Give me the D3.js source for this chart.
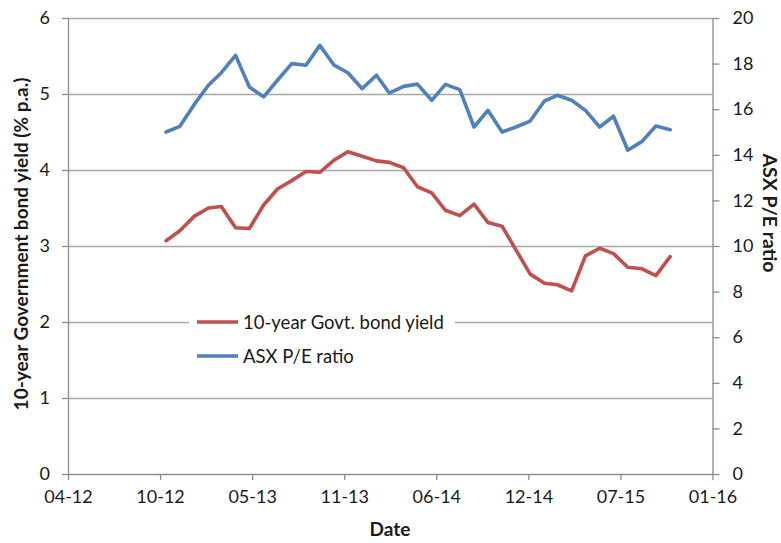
<!DOCTYPE html>
<html>
<head>
<meta charset="utf-8">
<script src="https://cdn.jsdelivr.net/npm/d3@7"></script>
<style>
  html, body { margin: 0; padding: 0; background: #fff; }
  svg { display: block; }
  text { font-family: Lato, "Open Sans", sans-serif; fill: #1a1a1a; }
</style>
</head>
<body>
<svg id="chart" width="781" height="543"></svg>
<script>
// ---- data ----
const dates = [
  "2012-10-31","2012-11-30","2012-12-31",
  "2013-01-31","2013-02-28","2013-03-31","2013-04-30","2013-05-31","2013-06-30",
  "2013-07-31","2013-08-31","2013-09-30","2013-10-31","2013-11-30","2013-12-31",
  "2014-01-31","2014-02-28","2014-03-31","2014-04-30","2014-05-31","2014-06-30",
  "2014-07-31","2014-08-31","2014-09-30","2014-10-31","2014-11-30","2014-12-31",
  "2015-01-31","2015-02-28","2015-03-31","2015-04-30","2015-05-31","2015-06-30",
  "2015-07-31","2015-08-31","2015-09-30","2015-10-31"
];
const bondYield = [
  3.07, 3.20, 3.39,
  3.50, 3.52, 3.24, 3.23, 3.54, 3.75,
  3.86, 3.98, 3.97, 4.13, 4.24, 4.18,
  4.12, 4.10, 4.03, 3.78, 3.70, 3.47,
  3.40, 3.55, 3.31, 3.26, 2.95, 2.63,
  2.51, 2.49, 2.41, 2.87, 2.97, 2.90,
  2.72, 2.70, 2.61, 2.86
];
const peRatio = [
  15.00, 15.25, 16.20,
  17.05, 17.60, 18.36, 16.97, 16.54, 17.27,
  18.00, 17.93, 18.80, 17.93, 17.60, 16.90,
  17.49, 16.71, 17.00, 17.10, 16.39, 17.09,
  16.86, 15.22, 15.95, 15.00, 15.22, 15.48,
  16.36, 16.61, 16.39, 15.95, 15.22, 15.69,
  14.20, 14.59, 15.26, 15.10
];
const xDomain = ["2012-04-01", "2016-01-31"];
const xTickDates = ["2012-04-01","2012-10-18","2013-05-06","2013-11-22","2014-06-10","2014-12-27","2015-07-15","2016-01-31"];
const leftTicks = [0, 1, 2, 3, 4, 5, 6];
const rightTicks = [0, 2, 4, 6, 8, 10, 12, 14, 16, 18, 20];
const seriesNames = ["10-year Govt. bond yield", "ASX P/E ratio"];
const leftTitle = "10-year Government bond yield (% p.a.)";
const rightTitle = "ASX P/E ratio";
const xTitle = "Date";

// ---- layout ----
const svg = d3.select("#chart");
const L = 68, R = 712.5, T = 18, B = 474;
const red = "#C0504D", blue = "#4F81BD";
const gridCol = "#a8a8a8", axisCol = "#8c8c8c";

const parse = d3.utcParse("%Y-%m-%d");
const x = d3.scaleUtc().domain(xDomain.map(parse)).range([L, R]);
const yL = d3.scaleLinear().domain([0, 6]).range([B, T]);
const yR = d3.scaleLinear().domain([0, 20]).range([B, T]);

// gridlines
svg.append("g").selectAll("line")
  .data(leftTicks.filter(d => d > 0))
  .join("line")
  .attr("x1", L).attr("x2", R)
  .attr("y1", d => Math.round(yL(d)) + 0.5).attr("y2", d => Math.round(yL(d)) + 0.5)
  .attr("stroke", gridCol).attr("stroke-width", 1.3);

// axes
const fmt = d3.utcFormat("%m-%y");
const gx = svg.append("g").attr("transform", `translate(0,${B})`)
  .call(d3.axisBottom(x).tickValues(xTickDates.map(parse)).tickFormat(fmt).tickSize(6).tickPadding(10).tickSizeOuter(0));
const gl = svg.append("g").attr("transform", `translate(${L},0)`)
  .call(d3.axisLeft(yL).tickValues(leftTicks).tickFormat(d3.format("d")).tickSize(6).tickPadding(12).tickSizeOuter(0));
const gr = svg.append("g").attr("transform", `translate(${R},0)`)
  .call(d3.axisRight(yR).tickValues(rightTicks).tickFormat(d3.format("d")).tickSize(7).tickPadding(13).tickSizeOuter(0));
[gx, gl, gr].forEach(g => {
  g.selectAll("path.domain").attr("stroke", axisCol).attr("stroke-width", 1.3);
  g.selectAll(".tick line").attr("stroke", axisCol).attr("stroke-width", 1.3);
  g.selectAll(".tick text").attr("font-family", "Lato, sans-serif").attr("font-size", 18).attr("fill", "#1a1a1a");
});

// lines
const rows = dates.map((d, i) => ({ date: parse(d), yld: bondYield[i], pe: peRatio[i] }));
svg.append("path").datum(rows)
  .attr("fill", "none").attr("stroke", blue).attr("stroke-width", 3.6)
  .attr("stroke-linejoin", "round").attr("stroke-linecap", "round")
  .attr("d", d3.line().x(d => x(d.date)).y(d => yR(d.pe)));
svg.append("path").datum(rows)
  .attr("fill", "none").attr("stroke", red).attr("stroke-width", 3.6)
  .attr("stroke-linejoin", "round").attr("stroke-linecap", "round")
  .attr("d", d3.line().x(d => x(d.date)).y(d => yL(d.yld)));

// legend
const lg = svg.append("g");
lg.append("rect").attr("x", 189).attr("y", 303).attr("width", 266).attr("height", 70).attr("fill", "#fff");
const legendItems = [{ name: seriesNames[0], color: red, y: 322 }, { name: seriesNames[1], color: blue, y: 356 }];
legendItems.forEach(it => {
  lg.append("line").attr("x1", 197).attr("x2", 238).attr("y1", it.y).attr("y2", it.y)
    .attr("stroke", it.color).attr("stroke-width", 3.6);
  lg.append("text").attr("x", 243).attr("y", it.y + 6.5).attr("font-size", 18.5).text(it.name);
});

// titles
svg.append("text")
  .attr("transform", `translate(28,${(T + B) / 2 - 2}) rotate(-90)`)
  .attr("text-anchor", "middle").attr("font-weight", "bold").attr("font-size", 19)
  .text(leftTitle);
svg.append("text")
  .attr("transform", `translate(763,213) rotate(90)`)
  .attr("text-anchor", "middle").attr("font-weight", "bold").attr("font-size", 19.5)
  .text(rightTitle);
svg.append("text")
  .attr("x", 390).attr("y", 536)
  .attr("text-anchor", "middle").attr("font-weight", "bold").attr("font-size", 19)
  .text(xTitle);
</script>
</body>
</html>
